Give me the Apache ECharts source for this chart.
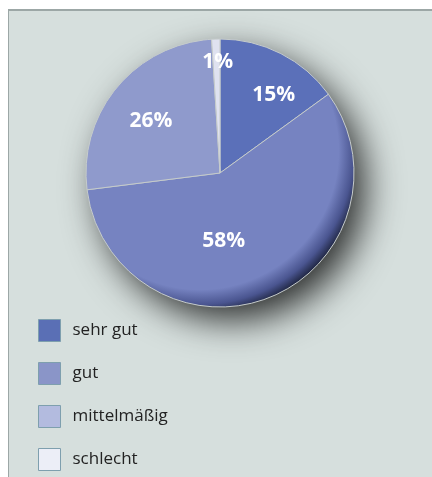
<!DOCTYPE html>
<html>
<head>
<meta charset="utf-8">
<script src="https://cdn.jsdelivr.net/npm/echarts@6/dist/echarts.min.js"></script>
<style>
html, body { margin: 0; padding: 0; background: #ffffff; }
.panel {
  position: absolute;
  left: 8px;
  top: 9px;
  width: 424px;
  height: 468px;
  background: #d6dfdd;
  border-top: 2px solid #9ca7a6;
  border-left: 1px solid #9ca7a6;
  box-sizing: border-box;
}
#chart { position: absolute; left: 0; top: 0; width: 432px; height: 477px; }
</style>
</head>
<body>
<div class="panel"></div>
<div id="chart"></div>
<script>
// Daten
const categories = ['sehr gut', 'gut', 'mittelmäßig', 'schlecht'];
const shares = [15, 58, 26, 1];

// Farben
const sliceColors = ['#5b70b9', '#7683c1', '#8f9acc', '#dfe2f0'];
const legendColors = ['#5a6fb5', '#8a95c8', '#b3bbdf', '#eceef7'];
// Verschiebung der Beschriftungen (px)
const labelOffsets = [[22, -16], [-22, 3], [-15, -7], [0, -41]];

const cx = 220, cy = 173, radius = 134;

// Schattierung wie ein Knopf
const shade = (base) => new echarts.graphic.RadialGradient(cx - 20, cy - 22, 165, [
  { offset: 0, color: base },
  { offset: 0.84, color: base },
  { offset: 0.93, color: '#4a5590' },
  { offset: 1, color: '#1a2038' }
], true);

const chart = echarts.init(document.getElementById('chart'));

const option = {
  backgroundColor: 'transparent',
  animation: false,
  legend: {
    orient: 'vertical',
    left: 38,
    top: 319,
    height: 160,
    padding: 0,
    itemWidth: 22,
    itemHeight: 22,
    itemGap: 20,
    icon: 'rect',
    selectedMode: false,
    itemStyle: { borderColor: '#7e9fae', borderWidth: 1 },
    textStyle: {
      fontFamily: 'Open Sans',
      fontSize: 17,
      color: '#222222',
      padding: [0, 0, 0, 7]
    },
    data: categories.map((name, i) => ({
      name: name,
      itemStyle: { color: legendColors[i] }
    }))
  },
  series: [
    {
      // Schatten hinter dem Kreis
      type: 'pie',
      center: [cx, cy],
      radius: radius - 1,
      silent: true,
      label: { show: false },
      legendHoverLink: false,
      z: 1,
      data: [{
        value: 1,
        name: '',
        itemStyle: {
          color: '#2a3050',
          shadowBlur: 36,
          shadowOffsetX: 12,
          shadowOffsetY: 14,
          shadowColor: 'rgba(0,0,0,0.8)'
        }
      }]
    },
    {
      type: 'pie',
      center: [cx, cy],
      radius: radius,
      startAngle: 90,
      clockwise: true,
      z: 2,
      itemStyle: { borderColor: '#c5cbcb', borderWidth: 1 },
      label: {
        show: true,
        position: 'inside',
        formatter: '{c}%',
        color: '#ffffff',
        fontFamily: 'Open Sans',
        fontWeight: 'bold',
        fontSize: 21
      },
      labelLine: { show: false },
      data: categories.map((name, i) => ({
        name: name,
        value: shares[i],
        itemStyle: { color: shade(sliceColors[i]) },
        label: { offset: labelOffsets[i] }
      }))
    }
  ]
};

chart.setOption(option);
</script>
</body>
</html>
